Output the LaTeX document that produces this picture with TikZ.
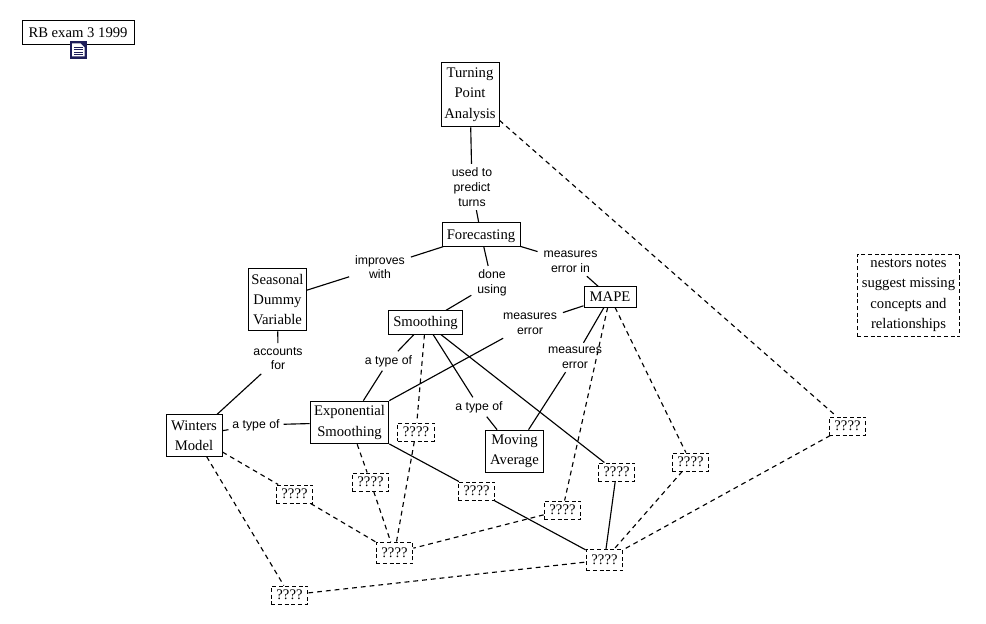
\documentclass[tikz,border=0pt]{standalone}
\usepackage{fontspec}
\setmainfont{Liberation Serif}
\setsansfont{Liberation Sans}
\definecolor{iconnavy}{RGB}{30,30,90}

\begin{document}
\begin{tikzpicture}[x=0.75pt,y=-0.75pt,
    concept/.style={draw,line width=0.75pt,inner sep=0pt,align=center,
      font=\fontsize{11}{15.2}\selectfont},
    lowered/.style={concept,execute at begin node={\rule{0pt}{10pt}}},
    unknown/.style={concept,dashed,dash pattern=on 3pt off 2pt,
      minimum width=27.5pt,minimum height=13.5pt},
    lab/.style={inner xsep=4.5pt,inner ysep=3pt,outer sep=0pt,align=center,
      font=\sffamily\fontsize{9.2}{11}\selectfont},
    link/.style={line width=0.85pt},
    dlink/.style={line width=0.85pt,dash pattern=on 3.6pt off 3pt}]
    % Page
    \useasboundingbox (0,0) rectangle (986,624);
    % Title and its icon
    \node[concept,minimum width=84pt,minimum height=18.5pt] (title) at (78,32.5) {RB exam 3 1999};
    \fill[iconnavy] (69.5,41) rectangle (87,59);
    \fill[white] (72,43.5) -- (80.5,43.5) -- (84.5,47.5) -- (84.5,56.5) -- (72,56.5) -- cycle;
    \foreach \ly in {47.5,50,52.5,54.5}{
      \draw[iconnavy,line width=0.75pt] (74,\ly) -- (82.5,\ly);
    }
    % Concepts
    \node[lowered,minimum width=43.5pt,minimum height=48.5pt] (turning) at (470,94.5) {Turning\\Point\\Analysis};
    \node[lowered,minimum width=58.5pt,minimum height=17.5pt] (forecasting) at (481,234.5) {Forecasting};
    \node[concept,minimum width=39pt,minimum height=15pt] (mape) at (610,297) {MAPE};
    \node[concept,minimum width=55pt,minimum height=17.5pt] (smoothing) at (425.5,322.5) {Smoothing};
    \node[lowered,minimum width=43pt,minimum height=47pt] (seasonal) at (277.5,299.5) {Seasonal\\Dummy\\Variable};
    \node[lowered,minimum width=42pt,minimum height=31pt] (winters) at (194,435.5) {Winters\\Model};
    \node[lowered,minimum width=59pt,minimum height=32pt] (exponential) at (349.5,422.5) {Exponential\\Smoothing};
    \node[lowered,minimum width=44pt,minimum height=32pt] (moving) at (514.5,451.5) {Moving\\Average};
    % Missing concepts
    \foreach \nm/\px/\py in {qa/416/432, qb/370.5/482, qc/294.5/494, qd/476.5/491,
        qf/289.5/595, qg/562.5/510, qh/616.5/472, qi/690.5/462, qk/847.5/426}{
      \node[unknown] (\nm) at (\px,\py) {????};
    }
    \node[unknown,minimum height=16pt] (qe) at (394.5,553) {????};
    \node[unknown,minimum height=16pt] (qj) at (604.5,560) {????};
    % Notes
    \node[lowered,dashed,dash pattern=on 3pt off 2pt,minimum width=77pt,minimum height=62pt] (notes) at (908.5,295.5)
      {nestors notes\\suggest missing\\concepts and\\relationships};
    % Link labels
    \node[lab] (usedto) at (472,187) {used to\\predict\\turns};
    \node[lab] (improves) at (380,267) {improves\\with};
    \node[lab] (errorin) at (570.5,261.5) {measures\\error in};
    \node[lab] (doneusing) at (492,283) {done\\using};
    \node[lab] (errorleft) at (530,323.5) {measures\\error};
    \node[lab] (errorright) at (575,357.5) {measures\\error};
    \node[lab] (typea) at (388.5,361) {a type of};
    \node[lab] (typeb) at (479,407) {a type of};
    \node[lab,inner xsep=3pt] (typec) at (256,425) {a type of};
    \node[lab] (accounts) at (278,358.5) {accounts\\for};
    % Solid links
    \foreach \a/\b in {turning/usedto, usedto/forecasting, forecasting/improves, improves/seasonal,
        forecasting/doneusing, doneusing/smoothing, forecasting/errorin, errorin/mape,
        mape/errorleft, errorleft/exponential, mape/errorright, errorright/moving,
        smoothing/typea, typea/exponential, smoothing/typeb, typeb/moving,
        seasonal/accounts, accounts/winters, winters/typec, typec/exponential,
        smoothing/qh, exponential/qd, qd/qj, qh/qj}{
      \draw[link] (\a) -- (\b);
    }
    % Dashed links
    \foreach \a/\b in {turning/qk, qk/qj, qi/qj, mape/qi, mape/qg, qg/qe, smoothing/qa, qa/qe,
        exponential/qb, qb/qe, winters/qc, qc/qe, winters/qf, qf/qj}{
      \draw[dlink] (\a) -- (\b);
    }
  \end{tikzpicture}
\end{document}
